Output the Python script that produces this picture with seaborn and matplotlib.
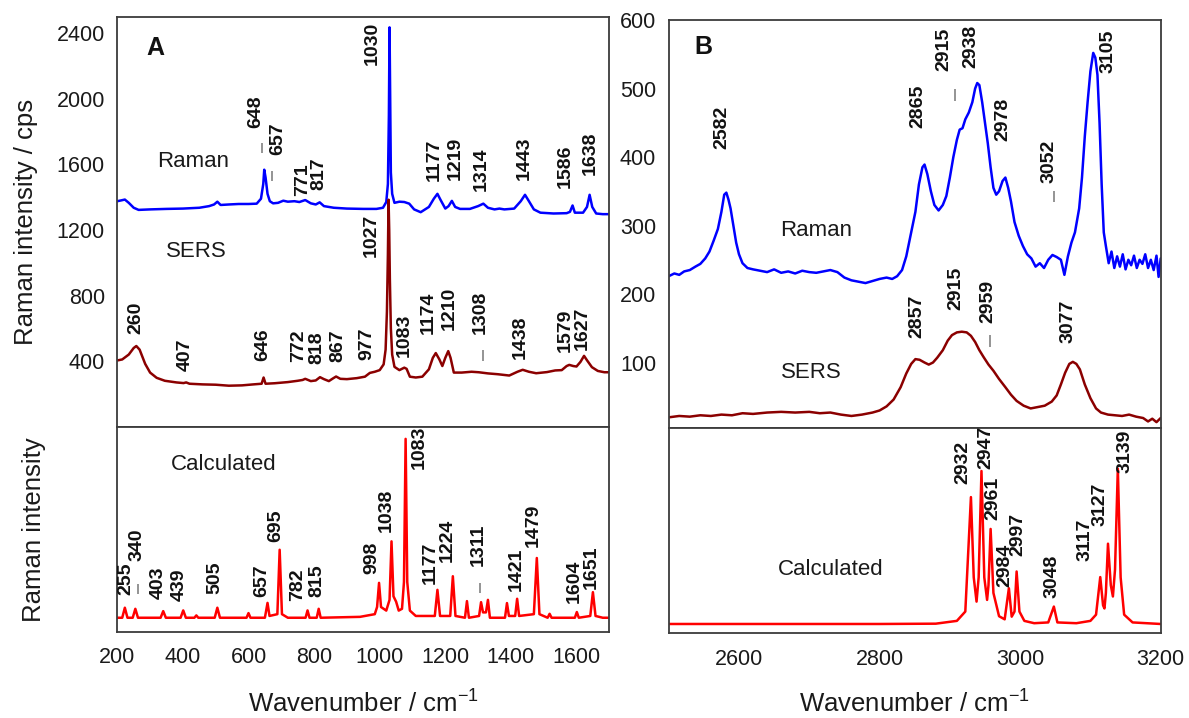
"""
Raman / SERS / calculated spectra, two panels (A: 200-1700, B: 2500-3200)
"""
import matplotlib
matplotlib.use("Agg")
import matplotlib.pyplot as plt
import seaborn as sns

# ---- panel A, experimental spectra (wavenumber, counts) ----
raman_a_x = [200, 212, 223, 235, 250, 265, 300, 350, 400, 450, 480, 495, 505, 515, 540, 570, 600, 625,
             638, 645, 648, 652, 658, 665, 675, 690, 706, 720, 740, 755, 773, 790, 805, 817, 830, 860,
             900, 950, 990, 1010, 1020, 1025, 1028, 1030, 1032, 1034, 1038, 1045, 1060, 1075, 1090, 1105,
             1125, 1150, 1165, 1176, 1185, 1200, 1210, 1220, 1230, 1245, 1275, 1300, 1316, 1330, 1350,
             1365, 1380, 1410, 1430, 1443, 1455, 1470, 1490, 1530, 1570, 1580, 1588, 1595, 1620, 1632,
             1640, 1648, 1660, 1680, 1700]
raman_a_y = [1375, 1380, 1385, 1365, 1335, 1322, 1325, 1328, 1330, 1335, 1345, 1355, 1372, 1352, 1355, 1358, 1358, 1360,
             1390, 1480, 1567, 1520, 1420, 1375, 1362, 1365, 1378, 1372, 1375, 1370, 1382, 1362, 1355, 1368, 1345, 1335,
             1330, 1328, 1328, 1335, 1370, 1480, 1900, 2435, 2000, 1550, 1420, 1365, 1372, 1370, 1360, 1325,
             1308, 1340, 1390, 1420, 1385, 1330, 1345, 1377, 1340, 1328, 1328, 1345, 1360, 1335, 1325,
             1330, 1325, 1330, 1375, 1414, 1375, 1325, 1305, 1300, 1302, 1310, 1349, 1305, 1305, 1340,
             1414, 1340, 1300, 1296, 1296]

sers_a_x = [200, 215, 235, 250, 258, 268, 285, 300, 320, 345, 380, 402, 410, 420, 460, 500, 540, 580, 615,
            640, 646, 652, 680, 720, 750, 765, 773, 790, 805, 818, 830, 845, 858, 867, 880, 900, 930, 955,
            970, 985, 1000, 1012, 1018, 1022, 1025, 1027, 1029, 1031, 1034, 1038, 1045, 1060, 1075, 1082,
            1092, 1110, 1130, 1150, 1162, 1171, 1182, 1191, 1200, 1209, 1216, 1226, 1250, 1280, 1302, 1330,
            1360, 1395, 1420, 1436, 1455, 1477, 1510, 1535, 1555, 1570, 1578, 1590, 1600, 1612, 1623, 1632,
            1647, 1665, 1685, 1700]
sers_a_y = [404, 410, 440, 480, 492, 470, 383, 330, 298, 280, 270, 266, 270, 262, 258, 256, 250, 252, 258,
            262, 300, 262, 265, 272, 280, 285, 292, 278, 282, 302, 290, 278, 295, 306, 292, 290, 296, 305,
            328, 335, 345, 380, 470, 700, 1050, 1384, 1200, 900, 600, 440, 365, 345, 360, 353,
            305, 300, 305, 350, 420, 449, 410, 370, 420, 461, 420, 330, 330, 335, 332, 325,
            320, 312, 335, 347, 335, 326, 333, 343, 345, 370, 377, 370, 367, 395, 432, 405,
            363, 340, 332, 332]

# ---- panel A, calculated spectrum (normalised) ----
calc_a_x = [200, 215, 223, 231, 247, 255, 263, 332, 340, 348, 393, 401, 409, 435, 441, 447, 497, 505, 513,
            594, 600, 606, 650, 658, 664, 688, 695, 702, 720, 774, 780, 786, 808, 814, 820, 940, 985,
            992, 998, 1004, 1020, 1030, 1036, 1042, 1050, 1058, 1068, 1074, 1079, 1084, 1092, 1110,
            1168, 1176, 1184, 1215, 1223, 1231, 1260, 1266, 1272, 1303, 1309, 1315, 1324, 1330, 1336,
            1382, 1388, 1394, 1413, 1419, 1425, 1470, 1479, 1487, 1512, 1518, 1524, 1595, 1601, 1607,
            1642, 1650, 1658, 1680, 1700]
calc_a_y = [0, 0, 0.056, 0, 0, 0.05, 0, 0, 0.037, 0, 0, 0.041, 0, 0, 0.013, 0, 0, 0.056, 0,
            0, 0.026, 0, 0, 0.083, 0.01, 0.02, 0.38, 0.02, 0, 0, 0.041, 0, 0, 0.05, 0, 0.005, 0.02,
            0.06, 0.195, 0.06, 0.04, 0.1, 0.427, 0.12, 0.09, 0.04, 0.05, 0.2, 1.0, 0.2, 0.04, 0.01,
            0.01, 0.156, 0.01, 0.01, 0.232, 0.01, 0, 0.093, 0, 0.01, 0.087, 0.03, 0.03, 0.1, 0,
            0, 0.082, 0.01, 0.01, 0.106, 0.01, 0.02, 0.334, 0.02, 0, 0.022, 0, 0, 0.032, 0,
            0.01, 0.143, 0.01, 0, 0]

# ---- panel B, experimental spectra ----
raman_b_x = [2500, 2508, 2515, 2522, 2530, 2538, 2545, 2552, 2558, 2564, 2570, 2575, 2579, 2582, 2585, 2588,
             2592, 2596, 2600, 2605, 2612, 2620, 2630, 2640, 2650, 2660, 2670, 2680, 2690, 2700, 2710,
             2720, 2730, 2740, 2750, 2760, 2770, 2780, 2790, 2800, 2810, 2818, 2825, 2832, 2838, 2845,
             2851, 2856, 2861, 2864, 2868, 2873, 2878, 2884, 2890, 2895, 2900, 2905, 2910, 2914, 2918,
             2922, 2927, 2932, 2936, 2939, 2942, 2946, 2950, 2954, 2958, 2962, 2966, 2970, 2975, 2979,
             2983, 2987, 2992, 2998, 3004, 3010, 3016, 3022, 3028, 3034, 3040, 3046, 3052, 3058, 3063,
             3068, 3073, 3078, 3084, 3088, 3092, 3096, 3100, 3104, 3107, 3110, 3113, 3116, 3119, 3122,
             3126, 3130, 3134, 3138, 3142, 3146, 3150, 3154, 3158, 3162, 3166, 3170, 3174, 3178, 3182,
             3186, 3190, 3194, 3197, 3200]
raman_b_y = [226, 230, 228, 233, 235, 240, 244, 252, 262, 278, 295, 320, 345, 348, 338, 325,
             300, 275, 258, 245, 238, 236, 234, 232, 236, 231, 233, 230, 234, 232, 231,
             233, 235, 232, 224, 220, 218, 216, 219, 222, 224, 222, 226, 235, 255, 290,
             320, 360, 385, 389, 375, 350, 330, 322, 330, 343, 370, 400, 425, 440, 442,
             455, 465, 480, 500, 508, 505, 480, 450, 420, 385, 355, 345, 350, 365, 370,
             355, 335, 305, 285, 270, 258, 252, 240, 245, 238, 250, 257, 254, 250, 228,
             255, 275, 290, 325, 370, 430, 480, 525, 552, 545, 520, 450, 360, 290, 270,
             245, 262, 238, 255, 240, 258, 236, 250, 242, 256, 238, 250, 244, 258, 238,
             250, 235, 256, 225, 252]

sers_b_x = [2500, 2515, 2530, 2545, 2560, 2575, 2590, 2605, 2620, 2640, 2660, 2680, 2700, 2715, 2730, 2745,
            2760, 2775, 2790, 2800, 2810, 2820, 2830, 2838, 2845, 2851, 2857, 2864, 2870, 2876, 2882,
            2890, 2897, 2903, 2910, 2917, 2924, 2930, 2936, 2942, 2948, 2955, 2962, 2970, 2979, 2987,
            2995, 3005, 3015, 3025, 3035, 3045, 3052, 3058, 3064, 3070, 3075, 3080, 3085, 3092, 3100,
            3108, 3115, 3125, 3135, 3145, 3155, 3165, 3175, 3182, 3188, 3194, 3200]
sers_b_y = [20, 22, 21, 23, 22, 24, 23, 26, 25, 27, 28, 27, 28, 26, 27, 24,
            22, 24, 27, 30, 36, 46, 64, 84, 98, 105, 104, 100, 97, 100, 107,
            118, 132, 140, 144, 145, 144, 139, 130, 118, 108, 97, 88, 76, 64, 53,
            44, 37, 33, 35, 37, 43, 52, 68, 85, 98, 101, 98, 90, 68, 48,
            33, 27, 24, 23, 22, 24, 21, 19, 14, 18, 13, 19]

# ---- panel B, calculated spectrum ----
calc_b_x = [2500, 2800, 2880, 2910, 2922, 2930, 2934, 2938, 2941, 2945, 2949, 2953, 2955, 2958, 2962,
            2970, 2978, 2984, 2988, 2992, 2995, 2999, 3006, 3020, 3040, 3048, 3053, 3080, 3100, 3108,
            3114, 3118, 3120, 3122, 3125, 3129, 3132, 3135, 3139, 3143, 3148, 3160, 3200]
calc_b_y = [0, 0, 0.002, 0.02, 0.08, 0.817, 0.3, 0.144, 0.3, 0.985, 0.3, 0.155, 0.25, 0.612, 0.2,
            0.05, 0.03, 0.23, 0.047, 0.08, 0.338, 0.08, 0.02, 0.005, 0.01, 0.112, 0.01, 0.005, 0.02, 0.06,
            0.302, 0.12, 0.1, 0.2, 0.517, 0.25, 0.177, 0.35, 1.0, 0.3, 0.06, 0.01, 0]

# ---- peak labels: (text, x, y of label bottom) ----
raman_a_labels = [("648", 622, 1822), ("657", 688, 1659), ("771", 765, 1404), ("817", 815, 1445),
                  ("1030", 977, 2204), ("1177", 1167, 1496), ("1219", 1229, 1506), ("1314", 1311, 1435),
                  ("1443", 1442, 1506), ("1586", 1565, 1455), ("1638", 1641, 1537)]
sers_a_labels = [("260", 256, 567), ("407", 408, 339), ("646", 642, 398), ("772", 753, 394),
                 ("818", 809, 383), ("867", 872, 394), ("977", 961, 404), ("1027", 975, 1037),
                 ("1083", 1074, 424), ("1174", 1148, 567), ("1210", 1211, 588), ("1308", 1308, 567),
                 ("1438", 1428, 414), ("1579", 1565, 455), ("1627", 1618, 465)]
calc_a_labels = [("255", 227, 0.125), ("340", 259, 0.32), ("403", 325, 0.106), ("439", 390, 0.096),
                 ("505", 499, 0.13), ("657", 640, 0.115), ("695", 683, 0.425), ("782", 751, 0.096),
                 ("815", 809, 0.115), ("998", 975, 0.245), ("1038", 1021, 0.477), ("1083", 1120, 0.829),
                 ("1177", 1155, 0.189), ("1224", 1205, 0.31), ("1311", 1300, 0.29), ("1421", 1417, 0.152),
                 ("1479", 1469, 0.393), ("1604", 1594, 0.083), ("1651", 1644, 0.161)]
raman_b_labels = [("2582", 2575, 411), ("2865", 2855, 443), ("2915", 2892, 525), ("2938", 2930, 530),
                  ("2978", 2976, 423), ("3052", 3041, 362), ("3105", 3125, 523)]
sers_b_labels = [("2857", 2853, 136), ("2915", 2908, 177), ("2959", 2954, 157), ("3077", 3068, 128)]
calc_b_labels = [("2932", 2918, 0.899), ("2947", 2951, 0.996), ("2961", 2961, 0.672), ("2984", 2978, 0.241),
                 ("2997", 2997, 0.435), ("3048", 3046, 0.166), ("3117", 3092, 0.403), ("3127", 3114, 0.629),
                 ("3139", 3149, 0.974)]

# small marker dashes under some labels (x, y from, y to)
dashes_a_top = [(640, 1670, 1730), (673, 1497, 1557), (1316, 400, 465)]
dashes_a_calc = [(264, 0.135, 0.19), (1306, 0.14, 0.195)]
dashes_b_top = [(2908, 482, 499), (3048, 335, 350), (2957, 123, 140)]

BLUE = "#0000FF"
DARKRED = "#8B0000"
RED = "#FF0000"
FRAME = "#3c3c3c"

sns.set_theme(style="white")
plt.rcParams["font.family"] = ["Liberation Sans", "DejaVu Sans"]
plt.rcParams["mathtext.fontset"] = "custom"
plt.rcParams["mathtext.rm"] = "Liberation Sans"
plt.rcParams["mathtext.it"] = "Liberation Sans"

fig = plt.figure(figsize=(11.89, 7.18), dpi=100)
W, H = 1189, 718


def add_ax(left, top, right, bottom):
    return fig.add_axes([left / W, 1 - bottom / H, (right - left) / W, (bottom - top) / H])


ax_a = add_ax(117.3, 16.7, 609.3, 426.7)
ax_ac = add_ax(117.3, 426.7, 609.3, 631.7)
ax_b = add_ax(668.7, 20.0, 1160.7, 428.3)
ax_bc = add_ax(668.7, 428.3, 1160.7, 633.3)

LW = 1.8
sns.lineplot(x=raman_a_x, y=raman_a_y, ax=ax_a, color=BLUE, linewidth=LW, estimator=None, sort=False)
sns.lineplot(x=sers_a_x, y=sers_a_y, ax=ax_a, color=DARKRED, linewidth=LW, estimator=None, sort=False)
sns.lineplot(x=calc_a_x, y=calc_a_y, ax=ax_ac, color=RED, linewidth=LW, estimator=None, sort=False)
sns.lineplot(x=raman_b_x, y=raman_b_y, ax=ax_b, color=BLUE, linewidth=LW, estimator=None, sort=False)
sns.lineplot(x=sers_b_x, y=sers_b_y, ax=ax_b, color=DARKRED, linewidth=LW, estimator=None, sort=False)
sns.lineplot(x=calc_b_x, y=calc_b_y, ax=ax_bc, color=RED, linewidth=LW, estimator=None, sort=False)

# limits / ticks
ax_a.set_xlim(200, 1700)
ax_ac.set_xlim(200, 1700)
ax_a.set_ylim(0, 2500)
ax_ac.set_ylim(-0.078, 1.068)
ax_b.set_xlim(2500, 3200)
ax_bc.set_xlim(2500, 3200)
ax_b.set_ylim(4, 600)
ax_bc.set_ylim(-0.06, 1.26)

ax_a.set_yticks([400, 800, 1200, 1600, 2000, 2400])
ax_b.set_yticks([100, 200, 300, 400, 500, 600])
for ax in (ax_a, ax_ac):
    ax.set_xticks([200, 400, 600, 800, 1000, 1200, 1400, 1600])
for ax in (ax_b, ax_bc):
    ax.set_xticks([2600, 2800, 3000, 3200])
for ax in (ax_ac, ax_bc):
    ax.set_yticks([])
for ax in (ax_a, ax_b):
    ax.tick_params(axis="x", labelbottom=False)

for ax in (ax_a, ax_ac, ax_b, ax_bc):
    ax.tick_params(direction="in", length=7, width=1.2, color=FRAME, labelsize=15.5,
                   labelcolor="#1a1a1a", pad=9)
    ax.tick_params(axis="x", pad=11)
    for sp in ax.spines.values():
        sp.set_color(FRAME)
        sp.set_linewidth(1.3)
    ax.set_xlabel("")
    ax.set_ylabel("")

# axis titles
ax_a.set_ylabel("Raman intensity / cps", fontsize=18.5, color="#1a1a1a")
ax_a.yaxis.set_label_coords(-0.161, 0.5)
ax_ac.set_ylabel("Raman intensity", fontsize=18.5, color="#1a1a1a")
ax_ac.yaxis.set_label_coords(-0.145, 0.5)
for ax, yc in ((ax_ac, -0.397), (ax_bc, -0.389)):
    ax.set_xlabel("Wavenumber / cm$^{-1}$", fontsize=18.5, color="#1a1a1a")
    ax.xaxis.label.set_va("baseline")
    ax.xaxis.set_label_coords(0.5, yc)

# peak labels
LBL = dict(rotation=90, ha="center", va="bottom", fontsize=14, fontweight="bold", color="#111111")
for ax, labels in ((ax_a, raman_a_labels), (ax_a, sers_a_labels), (ax_ac, calc_a_labels),
                   (ax_b, raman_b_labels), (ax_b, sers_b_labels), (ax_bc, calc_b_labels)):
    for txt, x, y in labels:
        ax.text(x, y, txt, **LBL)

for ax, dl in ((ax_a, dashes_a_top), (ax_ac, dashes_a_calc), (ax_b, dashes_b_top)):
    for x, y0, y1 in dl:
        ax.vlines(x, y0, y1, colors="#777777", linewidth=1.1)

# curve names and panel letters
NAME = dict(ha="center", va="center", fontsize=16, color="#1a1a1a")
ax_a.text(432, 1618, "Raman", **NAME)
ax_a.text(441, 1067, "SERS", **NAME)
ax_ac.text(524, 0.857, "Calculated", **NAME)
ax_b.text(2710, 293, "Raman", **NAME)
ax_b.text(2703, 85, "SERS", **NAME)
ax_bc.text(2730, 0.349, "Calculated", **NAME)
ax_a.text(315, 2310, "A", ha="center", va="center", fontsize=18, fontweight="bold", color="#111111")
ax_b.text(2549, 560, "B", ha="center", va="center", fontsize=18, fontweight="bold", color="#111111")

fig.savefig("out.png", dpi=100)
